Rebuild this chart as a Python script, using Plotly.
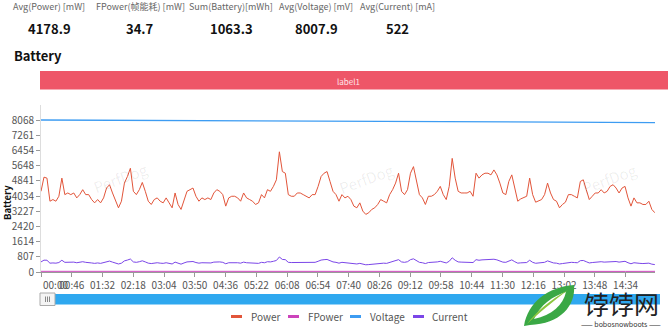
import plotly.graph_objects as go

# ---------------- data ----------------
power_mw = [
    4288, 5040, 4988, 3762, 3850, 3762, 4025, 4988, 4112, 4200, 4112, 4200, 3938, 4112, 4375, 4112, 4112,
    3850, 3675, 3850, 3675, 3938, 4462, 4638, 4200, 3762, 3412, 3762, 4725, 5075, 5512, 4288, 4112, 4375,
    4760, 4288, 3762, 3588, 3850, 3938, 3762, 3675, 3938, 3675, 3412, 4200, 3588, 3325, 3850, 4288, 4375, 4462,
    4025, 3762, 3938, 3850, 3938, 3850, 4200, 4375, 4288, 4112, 3500, 3938, 4025, 4025, 3938, 3762, 4200,
    3938, 3850, 3762, 3588, 3675, 4112, 3938, 4375, 4288, 4550, 4900, 6388, 5338, 5250, 4112, 4025, 4025,
    4200, 4200, 4112, 4025, 3938, 4112, 4112, 4550, 5075, 5250, 5338, 4812, 4288, 4112, 3762, 4112, 3938, 4025,
    3850, 3500, 3412, 3675, 3238, 3062, 3150, 3325, 3412, 3588, 3850, 3762, 3675, 4112, 4375, 4725, 5250,
    4288, 4112, 4375, 5250, 5600, 4900, 4112, 3938, 3588, 4025, 4025, 4112, 4288, 4550, 4112, 3850, 4550,
    6038, 4988, 4288, 4200, 4200, 4200, 4288, 4025, 5250, 4988, 5162, 5250, 5250, 5162, 5425, 5162, 4725, 4200,
    4112, 4812, 5162, 4375, 3762, 3885, 3938, 4025, 4988, 4112, 3710, 3762, 3850, 4112, 4725, 4200, 3850,
    3762, 3412, 3588, 3710, 4112, 4112, 4025, 3938, 4812, 4900, 4375, 3850, 4025, 4200, 4200, 4375, 4200,
    4288, 4550, 4638, 4462, 4200, 4462, 4550, 3938, 3500, 3938, 3675, 3675, 3588, 3588, 3762, 3325, 3150,
]
current_ma = [
    536, 630, 624, 470, 481, 470, 503, 624, 514, 525, 514, 525, 492, 514, 547, 514, 514,
    481, 459, 481, 459, 492, 558, 580, 525, 470, 427, 470, 591, 634, 689, 536, 514, 547,
    595, 536, 470, 449, 481, 492, 470, 459, 492, 459, 427, 525, 449, 416, 481, 536, 547, 558,
    503, 470, 492, 481, 492, 481, 525, 547, 536, 514, 438, 492, 503, 503, 492, 470, 525,
    492, 481, 470, 449, 459, 514, 492, 547, 536, 569, 613, 799, 667, 656, 514, 503, 503,
    525, 525, 514, 503, 492, 514, 514, 569, 634, 656, 667, 602, 536, 514, 470, 514, 492, 503,
    481, 438, 427, 459, 405, 383, 394, 416, 427, 449, 481, 470, 459, 514, 547, 591, 656,
    536, 514, 547, 656, 700, 613, 514, 492, 449, 503, 503, 514, 536, 569, 514, 481, 569,
    755, 624, 536, 525, 525, 525, 536, 503, 656, 624, 645, 656, 656, 645, 678, 645, 591, 525,
    514, 602, 645, 547, 470, 486, 492, 503, 624, 514, 464, 470, 481, 514, 591, 525, 481,
    470, 427, 449, 464, 514, 514, 503, 492, 602, 613, 547, 481, 503, 525, 525, 547, 525,
    536, 569, 580, 558, 525, 558, 569, 492, 438, 492, 459, 459, 449, 449, 470, 416, 394,
]
SAMPLE_S = 4.455  # sampling interval of the power / current series (seconds)
time_s = [round(i * SAMPLE_S, 2) for i in range(len(power_mw))]

coarse_time_s = [0, 46, 92, 138, 184, 230, 276, 322, 368, 414, 460, 506, 552, 598, 644, 690, 736, 782, 828, 874, 918]
voltage_mv = [8078, 8070, 8066, 8052, 8050, 8041, 8038, 8026, 8024, 8012, 8010, 7999, 7996, 7985, 7983, 7972,
              7970, 7958, 7956, 7946, 7941]
fpower_mw = [36, 34, 35, 33, 36, 35, 34, 37, 33, 35, 34, 36, 35, 33, 35, 34, 36, 34, 35, 33, 35]

x_tick_s = [0, 46, 92, 138, 184, 230, 276, 322, 368, 414, 460, 506, 552, 598, 644, 690, 736, 782, 828, 874]
x_tick_labels = ["00:00", "00:46", "01:32", "02:18", "03:04", "03:50", "04:36", "05:22", "06:08", "06:54",
                 "07:40", "08:26", "09:12", "09:58", "10:44", "11:30", "12:16", "13:02", "13:48", "14:34"]
y_ticks = [0, 807, 1614, 2420, 3227, 4034, 4841, 5648, 6454, 7261, 8068]

stat_labels = ["Avg(Power) [mW]", "FPower(帧能耗) [mW]", "Sum(Battery)[mWh]", "Avg(Voltage) [mV]", "Avg(Current) [mA]"]
stat_values = ["4178.9", "34.7", "1063.3", "8007.9", "522"]

series_names = ["Power", "FPower", "Voltage", "Current"]
series_colors = ["#e2553a", "#cc44bb", "#3d9cf2", "#7b46e8"]

# ---------------- layout helpers ----------------
W, H = 670, 328
ML, MR, MT, MB = 41, 15, 105, 56
PW, PH = W - ML - MR, H - MT - MB
FONT = "Noto Sans CJK SC, Noto Sans, sans-serif"


def fx(px):
    return (px - ML) / PW


def fy(py):
    return (H - MB - py) / PH


fig = go.Figure()
fig.add_trace(go.Scatter(x=time_s, y=power_mw, mode="lines", name=series_names[0],
                         line=dict(color=series_colors[0], width=1)))
fig.add_trace(go.Scatter(x=coarse_time_s, y=fpower_mw, mode="lines", name=series_names[1],
                         line=dict(color=series_colors[1], width=1)))
fig.add_trace(go.Scatter(x=coarse_time_s, y=voltage_mv, mode="lines", name=series_names[2],
                         line=dict(color=series_colors[2], width=1.3)))
fig.add_trace(go.Scatter(x=time_s, y=current_ma, mode="lines", name=series_names[3],
                         line=dict(color=series_colors[3], width=1)))

annotations = []
shapes = []

# stats row
stat_centers = [49, 140, 231, 316, 397]
for cx, lab, val in zip(stat_centers, stat_labels, stat_values):
    annotations.append(dict(x=fx(cx), y=fy(6), xref="paper", yref="paper", text=lab, showarrow=False,
                            xanchor="center", yanchor="middle", font=dict(size=9, color="#666", family=FONT)))
    annotations.append(dict(x=fx(cx), y=fy(28), xref="paper", yref="paper", text="<b>%s</b>" % val,
                            showarrow=False, xanchor="center", yanchor="middle",
                            font=dict(size=13, color="#111", family=FONT)))

# section title
annotations.append(dict(x=fx(12), y=fy(55), xref="paper", yref="paper", text="<b>Battery</b>", showarrow=False,
                        xanchor="left", yanchor="middle", font=dict(size=13, color="#111", family=FONT)))

# label bar
shapes.append(dict(type="rect", xref="paper", yref="paper", x0=fx(40), x1=fx(668), y0=fy(89.5), y1=fy(71),
                   fillcolor="#ee5668", line=dict(width=0), layer="above"))
annotations.append(dict(x=fx(348), y=fy(81), xref="paper", yref="paper", text="label1", showarrow=False,
                        xanchor="center", yanchor="middle", font=dict(size=8, color="#ffe6ea", family=FONT)))

# y axis title
annotations.append(dict(x=fx(7), y=fy(203), xref="paper", yref="paper", text="<b>Battery</b>", showarrow=False,
                        textangle=-90, xanchor="center", yanchor="middle",
                        font=dict(size=9.5, color="#111", family=FONT)))

# first x tick label (left aligned at axis start)
annotations.append(dict(x=0, y=fy(284), xref="paper", yref="paper", text=x_tick_labels[0], showarrow=False,
                        xanchor="left", yanchor="middle", font=dict(size=10, color="#555", family=FONT)))

# PerfDog watermarks
for cx, cy in [(88, 177), (366, 178), (642, 178)]:
    annotations.append(dict(x=fx(cx), y=fy(cy), xref="paper", yref="paper", text="PerfDog", showarrow=False,
                            textangle=-20, font=dict(size=15, color="rgba(0,0,0,0.07)", family=FONT)))

# data-zoom slider bar
shapes.append(dict(type="rect", xref="paper", yref="paper", x0=fx(41), x1=fx(660), y0=fy(304.5), y1=fy(294),
                   fillcolor="#2fa8ef", line=dict(width=0), layer="above"))
shapes.append(dict(type="rect", xref="paper", yref="paper", x0=fx(40), x1=fx(55), y0=fy(305.5), y1=fy(293),
                   fillcolor="#f4f4f4", line=dict(color="#aaa", width=1), layer="above"))
for hx in [45.5, 47.5, 49.5]:
    shapes.append(dict(type="line", xref="paper", yref="paper", x0=fx(hx), x1=fx(hx), y0=fy(302), y1=fy(296.5),
                       line=dict(color="#888", width=1), layer="above"))

# legend (manual)
legend_pos = [(231, 249), (288, 306), (350, 368), (413, 430)]
for (lx, tx), name, col in zip(legend_pos, series_names, series_colors):
    shapes.append(dict(type="line", xref="paper", yref="paper", x0=fx(lx), x1=fx(lx + 11), y0=fy(316.5),
                       y1=fy(316.5), line=dict(color=col, width=3), layer="above"))
    annotations.append(dict(x=fx(tx), y=fy(316.5), xref="paper", yref="paper", text=name, showarrow=False,
                            xanchor="left", yanchor="middle", font=dict(size=10, color="#555", family=FONT)))

# site logo overlay (bottom right)
def pth(pts):
    s = "M %f %f " % (fx(pts[0][0]), fy(pts[0][1]))
    for seg in pts[1:]:
        s += "C " + " ".join("%f %f" % (fx(a), fy(b)) for a, b in seg) + " "
    return s + "Z"


shapes.append(dict(type="path", xref="paper", yref="paper", layer="above",
                   path=pth([(524, 326), [(528, 302), (548, 287), (574, 285)],
                             [(576, 306), (560, 324), (530, 325)]]),
                   fillcolor="#3aa845", line=dict(width=0)))
shapes.append(dict(type="path", xref="paper", yref="paper", layer="above",
                   path=pth([(534, 319), [(540, 305), (553, 296), (566, 292)],
                             [(563, 305), (552, 315), (534, 319)]]),
                   fillcolor="#ffffff", line=dict(width=0)))
shapes.append(dict(type="path", xref="paper", yref="paper", layer="above",
                   path=pth([(527, 324), [(536, 312), (550, 300), (568, 290)],
                             [(552, 302), (538, 314), (527, 324)]]),
                   fillcolor="#8cc63f", line=dict(width=0)))
annotations.append(dict(x=fx(621), y=fy(303), xref="paper", yref="paper", text="饽饽网", showarrow=False,
                        xanchor="center", yanchor="middle", font=dict(size=25, color="#222", family=FONT)))
annotations.append(dict(x=fx(621), y=fy(323.5), xref="paper", yref="paper", text="—— bobosnowboots ——",
                        showarrow=False, xanchor="center", yanchor="middle",
                        font=dict(size=7, color="#333", family=FONT)))

fig.update_layout(
    width=W, height=H,
    margin=dict(l=ML, r=MR, t=MT, b=MB),
    paper_bgcolor="white", plot_bgcolor="white",
    showlegend=False,
    font=dict(family=FONT, size=10, color="#555"),
    xaxis=dict(range=[0, 918], tickmode="array", tickvals=x_tick_s, ticktext=[""] + x_tick_labels[1:],
               ticks="outside", ticklen=4, tickcolor="#999", showline=True, linecolor="#999", linewidth=1,
               showgrid=False, zeroline=False, tickfont=dict(size=10, color="#555", family=FONT)),
    yaxis=dict(range=[0, 8875], tickmode="array", tickvals=y_ticks, ticks="outside", ticklen=4,
               tickcolor="#999", showline=True, linecolor="#ddd", linewidth=1, showgrid=False, zeroline=False,
               tickfont=dict(size=10, color="#555", family=FONT)),
    annotations=annotations,
    shapes=shapes,
)

fig.write_html("out.html")
